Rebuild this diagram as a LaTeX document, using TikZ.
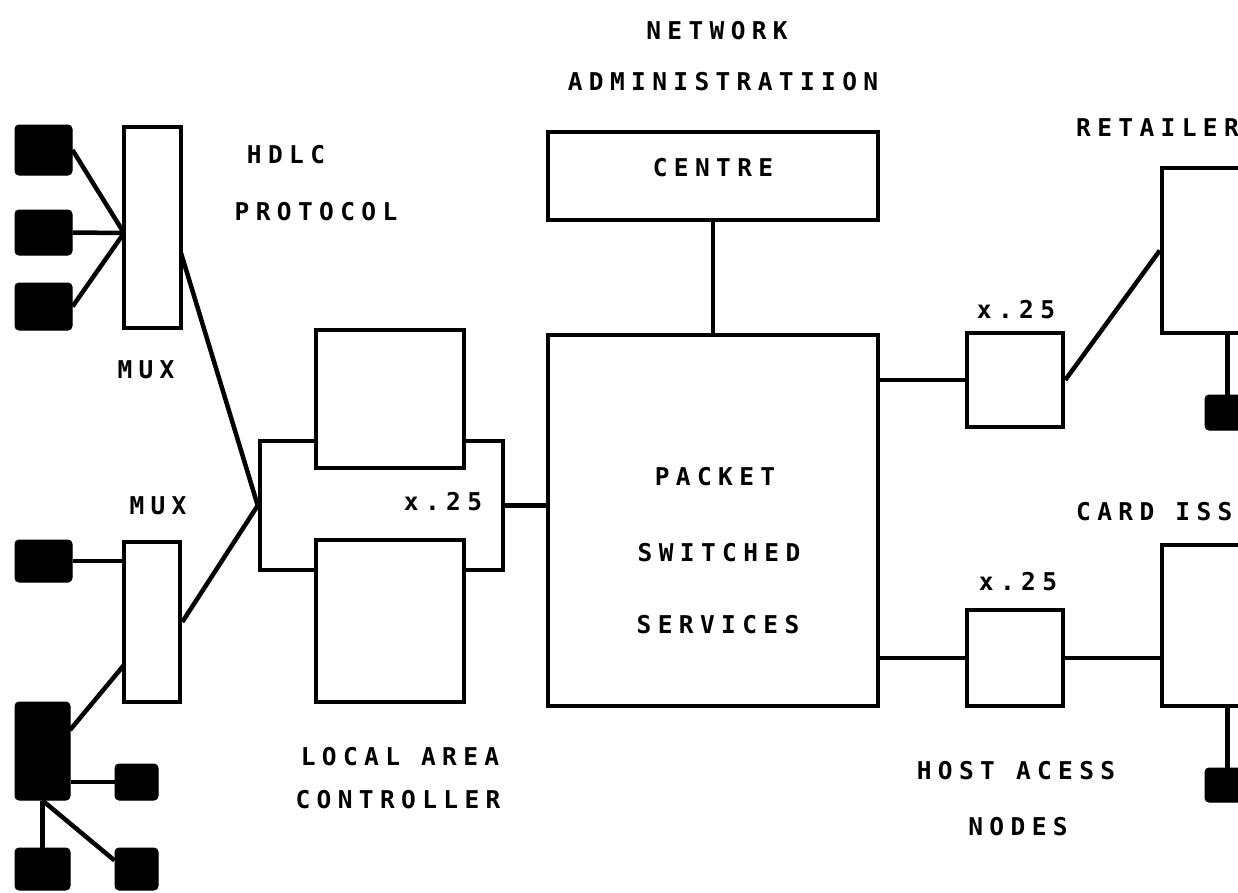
\documentclass[tikz,border=0pt]{standalone}
\usepackage{fontspec}
\newfontfamily\plotfont{DejaVu Sans Mono}[LetterSpace=26]
\usetikzlibrary{calc}
\begin{document}
\begin{tikzpicture}[x=1pt,y=-1pt,
  ln/.style={line width=4.5pt},
  box/.style={draw,line width=4.5pt,fill=white,rectangle,inner sep=0pt},
  term/.style={fill=black,draw=black,line width=1pt,rounded corners=4pt,rectangle,inner sep=0pt},
  lbl/.style={font=\plotfont\bfseries\fontsize{24.5}{28}\selectfont,inner sep=0pt}]
\useasboundingbox (0,0) rectangle (1238,892);
\clip (0,0) rectangle (1238,892);
% left terminals and multiplexers
\node[term,minimum width=57pt,minimum height=50pt] (t1) at (43.5,150) {};
\node[term,minimum width=57pt,minimum height=45pt] (t2) at (43.5,232.5) {};
\node[term,minimum width=57pt,minimum height=47pt] (t3) at (43.5,306.5) {};
\node[box,minimum width=57pt,minimum height=201pt] (mux1) at (152.5,227.5) {};
\coordinate (m1in) at (124,233);
\coordinate (m1out) at (181,253);
\draw[ln] (t1.east) -- (m1in);
\draw[ln] (t2.east) -- (m1in);
\draw[ln] (t3.east) -- (m1in);
\node[box,minimum width=56pt,minimum height=160pt] (mux2) at (152,622) {};
\node[term,minimum width=57pt,minimum height=42pt] (t4) at (43.5,561) {};
\node[term,minimum width=55pt,minimum height=98pt] (t5) at (42.5,751) {};
\node[term,minimum width=43pt,minimum height=36pt] (t6) at (136.5,782) {};
\node[term,minimum width=55pt,minimum height=42pt] (t7) at (42.5,869) {};
\node[term,minimum width=43pt,minimum height=42pt] (t8) at (136.5,869) {};
\coordinate (t5up) at (70,730);
\coordinate (m2in) at (124,665);
\draw[ln] (t4.east) -- (t4.east -| mux2.west);
\draw[ln] (t5up) -- (m2in);
\draw[ln] (t6.west) -- (t6.west -| t5.east);
\draw[ln] (t5.south) -- (t7.north);
\draw[ln] (t5.south) -- ($(t8.north west)!0.3!(t8.south west)$);
% local area controller
\node[box,minimum width=243pt,minimum height=129pt] (lacout) at (381.5,505.5) {};
\node[box,minimum width=148pt,minimum height=138pt] (lac1) at (390,399) {};
\node[box,minimum width=148pt,minimum height=162pt] (lac2) at (390,621) {};
\draw[ln] (m1out) -- (lacout.west);
\draw[ln] (mux2.east) -- (lacout.west);
% packet switched services and centre
\node[box,minimum width=330pt,minimum height=371pt] (pss) at (713,520.5) {};
\node[box,minimum width=330pt,minimum height=88pt] (centre) at (713,176) {};
\draw[ln] (centre.south) -- (pss.north);
\draw[ln] (lacout.east) -- (lacout.east -| pss.west);
% host access nodes
\node[box,minimum width=96pt,minimum height=94pt] (x1) at (1015,380) {};
\node[box,minimum width=96pt,minimum height=96pt] (x2) at (1015,658) {};
\node[box,minimum width=138pt,minimum height=165pt] (ret) at (1231,250.5) {};
\node[box,minimum width=138pt,minimum height=161pt] (card) at (1231,625.5) {};
\node[term,minimum width=45pt,minimum height=35pt] (t9) at (1227.5,412.5) {};
\node[term,minimum width=45pt,minimum height=34pt] (t10) at (1227.5,785) {};
\draw[ln] (x1.west -| pss.east) -- (x1.west);
\draw[ln] (x1.east) -- (ret.west);
\draw[ln] (t9.north) -- (t9.north |- ret.south);
\draw[ln] (x2.west -| pss.east) -- (x2.west);
\draw[ln] (x2.east) -- (x2.east -| card.west);
\draw[ln] (t10.north) -- (t10.north |- card.south);
% labels
\node[lbl] (l1) at (717,31) {NETWORK};
\node[lbl] (l2) at (723,82) {ADMINISTRATIION};
\node[lbl] (l3) at (713,168) {CENTRE};
\node[lbl] (l4) at (286,155) {HDLC};
\node[lbl] (l5) at (316,212) {PROTOCOL};
\node[lbl] (l6) at (146,370) {MUX};
\node[lbl] (l7) at (158,506) {MUX};
\node[lbl] (l8) at (443,502) {x.25};
\node[lbl] (l9) at (715,477) {PACKET};
\node[lbl] (l10) at (719,553) {SWITCHED};
\node[lbl] (l11) at (718,625) {SERVICES};
\node[lbl] (l12) at (400,757) {LOCAL AREA};
\node[lbl] (l13) at (398,800) {CONTROLLER};
\node[lbl] (l14) at (1016,310) {x.25};
\node[lbl] (l15) at (1018,582) {x.25};
\node[lbl] (l16) at (1016,771) {HOST ACESS};
\node[lbl] (l17) at (1018,827) {NODES};
\node[lbl,anchor=west] (l18) at (1076,128) {RETAILER};
\node[lbl,anchor=west] (l19) at (1076,512) {CARD ISSUER};
\end{tikzpicture}
\end{document}
